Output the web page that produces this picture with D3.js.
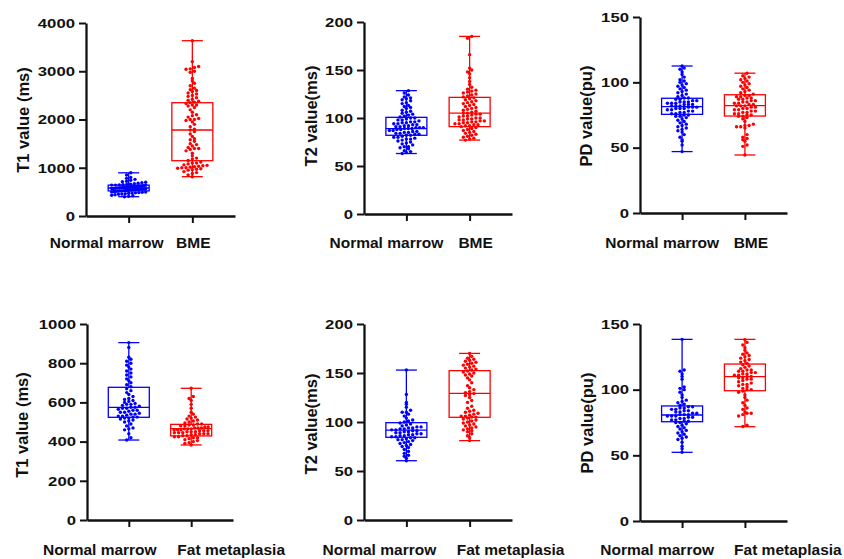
<!DOCTYPE html>
<html><head><meta charset="utf-8">
<script src="https://cdn.jsdelivr.net/npm/d3@7"></script>
<style>
body{margin:0;background:#fff}
svg text{font-family:"Liberation Sans",Arial,sans-serif;font-weight:bold;fill:#111}
</style>
</head><body><svg id="c" width="844" height="559"></svg>
<script>
// ---------- DATA ----------
const categoriesTop = ["Normal marrow", "BME"];
const categoriesBottom = ["Normal marrow", "Fat metaplasia"];
const yTitles = ["T1 value (ms)", "T2 value(ms)", "PD value(pu)", "T1 value (ms)", "T2 value(ms)", "PD value(pu)"];
const ticksT1Top = [0, 1000, 2000, 3000, 4000];
const ticksT2 = [0, 50, 100, 150, 200];
const ticksPD = [0, 50, 100, 150];
const ticksT1Bottom = [0, 200, 400, 600, 800, 1000];

// box stats: [min, q1, median, q3, max]
const boxT1Bme = [[400, 520, 580, 640, 895], [815, 1146, 1782, 2348, 3633]];
const boxT2Bme = [[63, 82, 89, 100.7, 128.5], [77, 91, 105, 121.5, 185]];
const boxPDBme = [[47, 75.5, 81.4, 87.8, 112.5], [44.4, 74.2, 82.2, 90.5, 107]];
const boxT1Fat = [[408, 524, 575, 677, 905], [383, 429, 466, 488, 672]];
const boxT2Fat = [[60.5, 84.4, 91.8, 99.3, 153], [81, 104.8, 129.3, 152.4, 170]];
const boxPDFat = [[52.3, 75.6, 80.7, 87.6, 138.3], [71.8, 99.2, 109.9, 119.5, 138.3]];

// individual points
const t1NormalA = [400, 410, 420, 430, 440, 450, 455, 460, 470, 475, 480, 485, 490, 495, 500, 505, 510, 515, 520, 520, 525, 530, 535, 540, 540, 545, 550, 550, 555, 560, 560, 565, 570, 570, 575, 580, 580, 585, 590, 590, 595, 600, 600, 605, 610, 610, 615, 620, 625, 630, 635, 640, 640, 645, 650, 655, 660, 670, 680, 690, 700, 710, 720, 740, 760, 780, 800, 850, 895];
const t1Bme = [3633, 3200, 3100, 3080, 3050, 3040, 3000, 2980, 2850, 2800, 2750, 2700, 2650, 2620, 2600, 2580, 2550, 2530, 2500, 2480, 2450, 2420, 2400, 2380, 2360, 2350, 2330, 2300, 2300, 2280, 2250, 2200, 2150, 2100, 2080, 2050, 2020, 2000, 2000, 1980, 1950, 1900, 1850, 1800, 1780, 1750, 1700, 1650, 1600, 1580, 1550, 1500, 1480, 1450, 1420, 1400, 1400, 1380, 1350, 1300, 1250, 1200, 1180, 1150, 1120, 1100, 1100, 1080, 1060, 1050, 1040, 1030, 1020, 1010, 1000, 1000, 990, 980, 970, 960, 950, 920, 900, 880, 850, 815];
const t2NormalA = [63, 64, 65, 66, 68, 69, 70, 70, 72, 73, 74, 75, 76, 77, 78, 78, 79, 80, 80, 81, 82, 82, 83, 83, 84, 84, 85, 85, 86, 86, 87, 87, 88, 88, 89, 89, 89, 90, 90, 90, 91, 91, 92, 92, 93, 93, 94, 94, 95, 95, 96, 96, 97, 98, 98, 99, 100, 100, 101, 102, 103, 104, 105, 106, 107, 108, 110, 111, 112, 113, 115, 116, 118, 119, 120, 121, 122, 124, 126, 128.5];
const t2Bme = [185, 183, 166, 152, 150, 148, 146, 142, 138, 135, 132, 130, 129, 128, 127, 126, 125, 124, 123, 122, 121, 120, 119, 118, 117, 116, 115, 114, 113, 112, 111, 110, 109, 108, 107, 106, 105, 105, 104, 104, 103, 102, 102, 101, 100, 100, 99, 99, 98, 98, 97, 97, 96, 96, 95, 95, 94, 94, 93, 93, 92, 92, 91, 90, 89, 88, 87, 86, 85, 84, 83, 82, 81, 80, 79, 78, 77];
const pdNormalA = [47, 52, 55, 56, 58, 60, 62, 63, 64, 65, 66, 67, 68, 69, 70, 71, 72, 73, 74, 74, 75, 75, 76, 76, 77, 77, 78, 78, 79, 79, 80, 80, 80, 81, 81, 81, 82, 82, 82, 83, 83, 83, 84, 84, 84, 85, 85, 85, 86, 86, 87, 87, 88, 88, 89, 90, 91, 92, 93, 94, 95, 96, 97, 98, 99, 100, 101, 102, 104, 106, 108, 110, 111, 112.5];
const pdBme = [44.4, 51, 52, 55, 56, 57, 58, 60, 65, 66, 66, 67, 67, 68, 70, 72, 73, 74, 74, 75, 75, 76, 76, 77, 77, 78, 78, 79, 79, 80, 80, 81, 81, 82, 82, 82, 83, 83, 84, 84, 85, 85, 86, 86, 87, 87, 88, 88, 89, 89, 90, 90, 91, 92, 93, 94, 95, 96, 97, 98, 99, 100, 101, 102, 103, 104, 105, 107];
const t1NormalB = [408, 420, 440, 460, 465, 470, 480, 490, 500, 505, 510, 515, 520, 520, 525, 525, 530, 530, 535, 540, 540, 545, 550, 550, 555, 560, 560, 565, 570, 570, 575, 575, 580, 585, 590, 590, 595, 600, 605, 610, 615, 620, 630, 640, 650, 660, 670, 680, 690, 700, 710, 720, 730, 740, 750, 760, 770, 780, 790, 800, 810, 820, 830, 880, 905];
const t1Fat = [383, 390, 395, 400, 405, 410, 415, 420, 420, 425, 425, 430, 430, 435, 435, 440, 440, 440, 445, 445, 445, 450, 450, 450, 455, 455, 455, 460, 460, 460, 465, 465, 465, 470, 470, 470, 475, 475, 480, 480, 485, 485, 490, 490, 495, 500, 505, 510, 515, 520, 525, 530, 540, 550, 570, 590, 610, 620, 630, 672];
const t2NormalB = [60.5, 63, 65, 66, 68, 70, 72, 74, 75, 76, 77, 78, 79, 80, 81, 82, 82, 83, 84, 84, 85, 85, 86, 86, 87, 87, 88, 88, 89, 89, 90, 90, 91, 91, 92, 92, 93, 93, 94, 94, 95, 95, 96, 97, 98, 99, 100, 101, 102, 104, 106, 108, 110, 110, 112, 115, 118, 120, 128, 153];
const t2Fat = [81, 84, 86, 88, 90, 91, 92, 93, 94, 95, 96, 97, 98, 99, 100, 101, 102, 103, 104, 105, 105, 106, 106, 107, 108, 109, 110, 111, 112, 114, 116, 120, 122, 125, 127, 128, 129, 130, 131, 133, 135, 137, 140, 143, 145, 147, 148, 149, 150, 151, 152, 153, 154, 155, 156, 157, 158, 159, 160, 161, 162, 163, 164, 165, 167, 170];
const pdNormalB = [52.3, 55, 57, 60, 62, 63, 64, 65, 66, 67, 68, 69, 70, 71, 72, 73, 74, 75, 75, 76, 76, 77, 77, 78, 78, 79, 79, 80, 80, 80, 81, 81, 81, 82, 82, 83, 83, 84, 84, 85, 85, 86, 86, 87, 87, 88, 89, 90, 91, 92, 94, 96, 98, 100, 101, 102, 108, 110, 112, 114, 115, 138.3];
const pdFat = [72, 73, 80, 81, 82, 82, 83, 85, 86, 88, 90, 92, 94, 96, 98, 99, 100, 100, 101, 102, 103, 104, 104, 105, 106, 107, 108, 108, 109, 109, 110, 110, 111, 111, 112, 112, 113, 113, 114, 114, 115, 115, 116, 117, 118, 119, 120, 121, 122, 123, 124, 125, 126, 127, 128, 130, 132, 134, 136, 138];

// ---------- LAYOUT ----------
const colors = ["#0000ff", "#ff0000"];
const panels = [
  {x0: 86, x1: 235, yTop: 23, yBot: 216, max: 4000, ticks: ticksT1Top, title: yTitles[0], tx: 23, ty: 120, cats: categoriesTop, box: boxT1Bme, pts: [t1NormalA, t1Bme], ly: 248, ldx: [-22, 1]},
  {x0: 364, x1: 512, yTop: 22, yBot: 214, max: 200, ticks: ticksT2, title: yTitles[1], tx: 311, ty: 116, cats: categoriesTop, box: boxT2Bme, pts: [t2NormalA, t2Bme], ly: 248, ldx: [-20, 6]},
  {x0: 640, x1: 787, yTop: 17, yBot: 213, max: 150, ticks: ticksPD, title: yTitles[2], tx: 586, ty: 116, cats: categoriesTop, box: boxPDBme, pts: [pdNormalA, pdBme], ly: 248, ldx: [-20, 6]},
  {x0: 87, x1: 233, yTop: 324, yBot: 520, max: 1000, ticks: ticksT1Bottom, title: yTitles[3], tx: 22, ty: 425, cats: categoriesBottom, box: boxT1Fat, pts: [t1NormalB, t1Fat], ly: 555, ldx: [-29, 40]},
  {x0: 364, x1: 512, yTop: 324, yBot: 520, max: 200, ticks: ticksT2, title: yTitles[4], tx: 311, ty: 424, cats: categoriesBottom, box: boxT2Fat, pts: [t2NormalB, t2Fat], ly: 555, ldx: [-27, 41]},
  {x0: 640, x1: 787, yTop: 324, yBot: 521, max: 150, ticks: ticksPD, title: yTitles[5], tx: 587, ty: 423, cats: categoriesBottom, box: boxPDFat, pts: [pdNormalB, pdFat], ly: 555, ldx: [-25, 43]}
];

const svg = d3.select("#c");
const R = 1.7;
const ROW_H = 3.4;   // vertical bin height in px
const COL_W = 4.2;   // horizontal spacing in px
const MAX_HALF = 17; // max half-width of a row in px

// Prism-like row layout: points in the same vertical bin are spread in a centered row
function rows(values, y, cx) {
  const bins = d3.group(values.map(v => ({v, y: y(v)})), d => Math.round(d.y / ROW_H));
  const out = [];
  for (const [, arr] of bins) {
    const n = arr.length;
    const s = n > 1 ? Math.min(COL_W, 2 * MAX_HALF / (n - 1)) : 0;
    arr.sort((a, b) => a.v - b.v);
    arr.forEach((p, j) => {
      p.x = cx + (j - (n - 1) / 2) * s;
      out.push(p);
    });
  }
  return out;
}

panels.forEach(P => {
  const g = svg.append("g");
  const y = d3.scaleLinear().domain([0, P.max]).range([P.yBot, P.yTop]);
  const x = d3.scalePoint().domain(P.cats).range([P.x0, P.x1]).padding(0.67);

  P.cats.forEach((c, i) => {
    const cx = x(c), col = colors[i], b = P.box[i];
    const bw = 41, cw = 21;
    const bg = g.append("g").attr("stroke", col).attr("fill", "none").attr("stroke-width", 1.3);
    bg.append("rect").attr("x", cx - bw / 2).attr("y", y(b[3])).attr("width", bw).attr("height", y(b[1]) - y(b[3]));
    bg.append("line").attr("x1", cx - bw / 2).attr("x2", cx + bw / 2).attr("y1", y(b[2])).attr("y2", y(b[2]));
    bg.append("line").attr("x1", cx).attr("x2", cx).attr("y1", y(b[4])).attr("y2", y(b[3]));
    bg.append("line").attr("x1", cx).attr("x2", cx).attr("y1", y(b[1])).attr("y2", y(b[0]));
    bg.append("line").attr("x1", cx - cw / 2).attr("x2", cx + cw / 2).attr("y1", y(b[4])).attr("y2", y(b[4]));
    bg.append("line").attr("x1", cx - cw / 2).attr("x2", cx + cw / 2).attr("y1", y(b[0])).attr("y2", y(b[0]));
    const pts = rows(P.pts[i], y, cx);
    g.append("g").selectAll("circle").data(pts).join("circle")
      .attr("cx", d => d.x).attr("cy", d => d.y).attr("r", R).attr("fill", col);
  });

  const ya = g.append("g").attr("transform", `translate(${P.x0},0)`)
    .call(d3.axisLeft(y).tickValues(P.ticks).tickSize(7).tickSizeOuter(0).tickPadding(4).tickFormat(d3.format("d")));
  ya.selectAll("text").style("font-size", "13.5px")
    .attr("textLength", d => String(d).length * 9.3).attr("lengthAdjust", "spacingAndGlyphs");
  const xa = g.append("g").attr("transform", `translate(0,${P.yBot})`)
    .call(d3.axisBottom(x).tickSize(7).tickSizeOuter(0).tickFormat(""));
  [ya, xa].forEach(a => {
    a.select(".domain").attr("stroke", "#111").attr("stroke-width", 2.3);
    a.selectAll(".tick line").attr("stroke", "#111").attr("stroke-width", 2);
  });

  P.cats.forEach((c, i) => {
    g.append("text").attr("x", x(c) + P.ldx[i]).attr("y", P.ly)
      .attr("text-anchor", "middle").style("font-size", "15.5px").text(c);
  });
  g.append("text").attr("transform", `translate(${P.tx + 6},${P.ty}) rotate(-90)`)
    .attr("text-anchor", "middle").style("font-size", "16.5px").text(P.title);
});
</script>
</body></html>
